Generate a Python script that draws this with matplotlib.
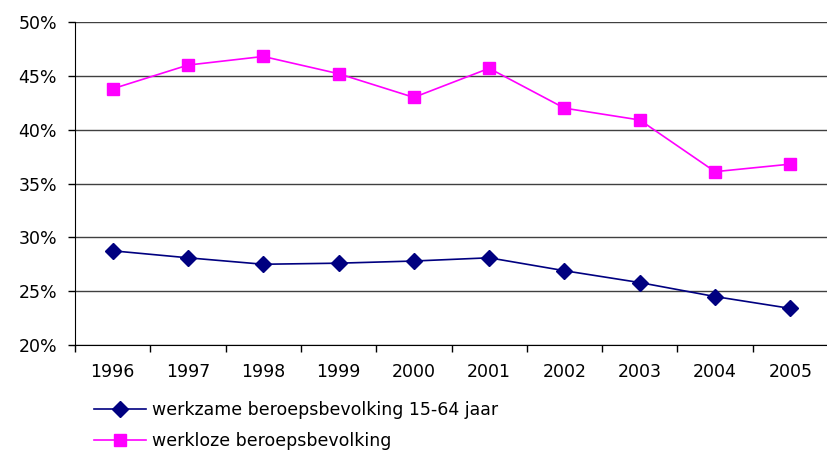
import matplotlib.pyplot as plt
import numpy as np
from matplotlib.ticker import FuncFormatter

years = ["1996", "1997", "1998", "1999", "2000", "2001", "2002", "2003", "2004", "2005"]
werkzaam = [28.75, 28.1, 27.5, 27.6, 27.8, 28.1, 26.9, 25.8, 24.5, 23.4]
werkloos = [43.8, 46.0, 46.8, 45.2, 43.0, 45.7, 42.0, 40.9, 36.1, 36.8]

plt.rcParams['font.family'] = 'DejaVu Sans'

fig = plt.figure(figsize=(8.28, 4.53), dpi=100)
ax = fig.add_axes([0.0906, 0.2384, 0.9094, 0.713])

x = np.arange(len(years))
l1, = ax.plot(x, werkzaam, color='#000080', marker='D', markersize=8, lw=1.2,
              label='werkzame beroepsbevolking 15-64 jaar', zorder=3)
l2, = ax.plot(x, werkloos, color='#FF00FF', marker='s', markersize=8, lw=1.2,
              label='werkloze beroepsbevolking', zorder=3)

ax.set_xlim(-0.5, len(years) - 0.5)
ax.set_ylim(20, 50)
ax.set_yticks(np.arange(20, 51, 5))
ax.yaxis.set_major_formatter(FuncFormatter(lambda v, p: "%d%%" % v))
ax.grid(axis='y', color='#404040', lw=1)
ax.set_axisbelow(True)

ax.set_xticks(x)
ax.set_xticklabels(years)
ax.set_xticks(np.arange(-0.5, len(years), 1), minor=True)
ax.tick_params(axis='x', which='major', length=0, pad=13, labelsize=12.5)
ax.tick_params(axis='x', which='minor', length=5, width=1, direction='out')
ax.tick_params(axis='y', length=5, width=1, labelsize=12.5, pad=8)

for s in ['top', 'right']:
    ax.spines[s].set_visible(False)
ax.spines['left'].set_color('black')
ax.spines['bottom'].set_color('black')

fig.legend(handles=[l1, l2], loc='upper left', bbox_to_anchor=(0.114, 0.114),
           frameon=False, fontsize=12.5, handlelength=3.0, handletextpad=0.3,
           labelspacing=0.75, borderaxespad=0, borderpad=0)

fig.savefig('out.png', dpi=100)
